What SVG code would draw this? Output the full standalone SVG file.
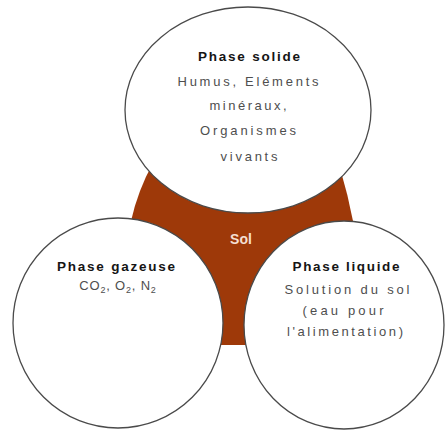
<svg xmlns="http://www.w3.org/2000/svg" width="445" height="432" viewBox="0 0 445 432">
<style>
.bg{fill:#ffffff}
.ring{fill:#ffffff;stroke:#4a4a4a;stroke-width:1.3}
.soil{fill:#9e3909;stroke:none}
.h{font-family:"Liberation Sans",Arial,sans-serif;font-weight:bold;font-size:13.5px;fill:#151515;text-anchor:middle}
.b{font-family:"Liberation Sans",Arial,sans-serif;font-size:13px;fill:#4e4e4e;text-anchor:middle}
.sol{font-family:"Liberation Sans",Arial,sans-serif;font-weight:bold;font-size:14px;fill:#f4dfd2;text-anchor:middle}
</style>
<rect class="bg" x="0" y="0" width="445" height="432"/>
<g id="sol">
<path class="soil" d="M 153,163 Q 138,190 131,221 L 221,345 L 246,345 L 353,221 Q 348,195 340,168 Q 250,140 153,163 Z"/>
<text class="sol" x="241" y="244">Sol</text>
</g>
<g id="phase-gazeuse">
<circle class="ring" cx="118" cy="323" r="105"/>
<text class="h" x="116" y="271" textLength="118" lengthAdjust="spacing">Phase gazeuse</text>
<text class="b" x="118" y="290" letter-spacing="0.8">CO<tspan font-size="9" dy="3">2</tspan><tspan dy="-3">, O</tspan><tspan font-size="9" dy="3">2</tspan><tspan dy="-3">, N</tspan><tspan font-size="9" dy="3">2</tspan></text>
</g>
<g id="phase-liquide">
<ellipse class="ring" cx="344" cy="325" rx="100" ry="104"/>
<text class="h" x="346" y="271" textLength="107" lengthAdjust="spacing">Phase liquide</text>
<text class="b" x="347" y="294" textLength="125" lengthAdjust="spacing">Solution du sol</text>
<text class="b" x="343" y="315" textLength="81" lengthAdjust="spacing">(eau pour</text>
<text class="b" x="345" y="336" textLength="116" lengthAdjust="spacing">l'alimentation)</text>
</g>
<g id="phase-solide">
<ellipse class="ring" cx="248" cy="110" rx="123" ry="103"/>
<text class="h" x="249" y="61" textLength="102" lengthAdjust="spacing">Phase solide</text>
<text class="b" x="248" y="86" textLength="141" lengthAdjust="spacing">Humus, Eléments</text>
<text class="b" x="248" y="110" textLength="77" lengthAdjust="spacing">minéraux,</text>
<text class="b" x="248" y="135" textLength="96" lengthAdjust="spacing">Organismes</text>
<text class="b" x="249" y="161" textLength="57" lengthAdjust="spacing">vivants</text>
</g>
<g id="connectors"></g>
</svg>
